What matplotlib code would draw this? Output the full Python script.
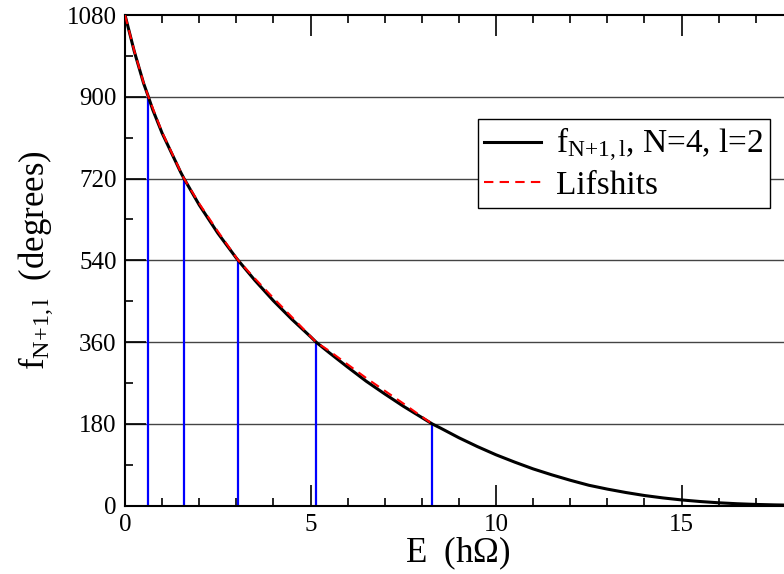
import matplotlib
matplotlib.use('Agg')
import matplotlib.pyplot as plt
from matplotlib.ticker import MultipleLocator

plt.rcParams['font.family'] = ['Liberation Serif', 'DejaVu Serif']
plt.rcParams['mathtext.fontset'] = 'custom'
plt.rcParams['mathtext.rm'] = 'Liberation Serif'
plt.rcParams['mathtext.it'] = 'Liberation Serif:italic'

# black curve f_{N+1,l}
e_curve = [0, 0.25, 0.5, 0.63, 0.75, 1.0, 1.5, 1.59, 2.0, 2.5, 3.0, 3.05, 3.5,
           4.0, 4.5, 5.0, 5.15, 5.5, 6.0, 6.5, 7.0, 7.5, 8.0, 8.28, 8.5, 9.0,
           9.5, 10.0, 10.5, 11.0, 11.5, 12.0, 12.5, 13.0, 13.5, 14.0, 14.5,
           15.0, 15.5, 16.0, 16.5, 17.0, 17.5, 18.0]
f_curve = [1080, 1000, 930, 900, 871, 820, 734, 720, 662, 600, 545, 540, 496,
           451, 410, 372, 360, 337, 305, 274, 246, 219, 194, 180, 171, 149.5,
           130, 112, 96, 81, 68, 56, 45, 36.5, 29, 22.4, 17.1,
           12.7, 9.2, 6.4, 4.3, 2.8, 1.8, 1.1]

# red dashed Lifshits approximation
e_lif = [0, 0.25, 0.5, 0.63, 1.0, 1.5, 1.59, 2.0, 2.5, 3.05, 3.5, 4.0, 4.5,
         5.15, 5.5, 6.0, 6.5, 7.0, 7.5, 8.0, 8.28]
f_lif = [1080, 1001, 931, 900, 822, 735, 720, 665, 604, 540, 500, 457, 415,
         360, 341, 311, 281, 253, 225, 196, 180]

# blue drop lines at the crossings
e_marks = [0.63, 1.59, 3.05, 5.15, 8.28]
f_marks = [900, 720, 540, 360, 180]

fig = plt.figure(figsize=(7.84, 5.74), dpi=100)
ax = fig.add_axes([125/784, 1 - 505.7/574, (784 - 125)/784, 490.7/574])

for yv in [180, 360, 540, 720, 900]:
    ax.axhline(yv, color='#444444', lw=1.0, zorder=1)

ax.vlines(e_marks, 0, f_marks, colors='#0000ff', lw=1.6, zorder=2)
ax.plot(e_curve, f_curve, color='black', lw=2.2, zorder=3,
        label=r'$\mathrm{f}_{\mathrm{N{+}1,l}}$, N=4, l=2')
ax.plot(e_lif, f_lif, color='red', lw=1.5, ls=(0, (4.5, 3)), zorder=4,
        label='Lifshits')

ax.set_xlim(0, 17.76)
ax.set_ylim(0, 1080)
ax.xaxis.set_major_locator(MultipleLocator(5))
ax.xaxis.set_minor_locator(MultipleLocator(1))
ax.yaxis.set_major_locator(MultipleLocator(180))
ax.yaxis.set_minor_locator(MultipleLocator(90))
ax.tick_params(which='both', direction='in', top=True, right=False,
               labelsize=18, width=1.2, colors='black')
ax.tick_params(which='major', length=15, pad=6)
ax.tick_params(which='minor', length=6)
ax.spines['right'].set_visible(False)
for s in ['left', 'bottom', 'top']:
    ax.spines[s].set_linewidth(1.5)

ax.set_xlabel(r'E  (h$\Omega$)', fontsize=25)
ax.xaxis.set_label_coords(0.505, -0.058)
ax.set_ylabel(r'$\mathrm{f}_{\mathrm{N{+}1,l}}$  (degrees)', fontsize=25)
ax.yaxis.set_label_coords(-0.106, 0.5)

leg = ax.legend(loc='upper right', bbox_to_anchor=(0.979, 0.788), borderaxespad=0,
                fontsize=24, fancybox=False, framealpha=1, edgecolor='black',
                handlelength=1.7, labelspacing=0.2, borderpad=0.2, handletextpad=0.45)
leg.get_frame().set_linewidth(1.0)

fig.savefig('out.png', dpi=100)
